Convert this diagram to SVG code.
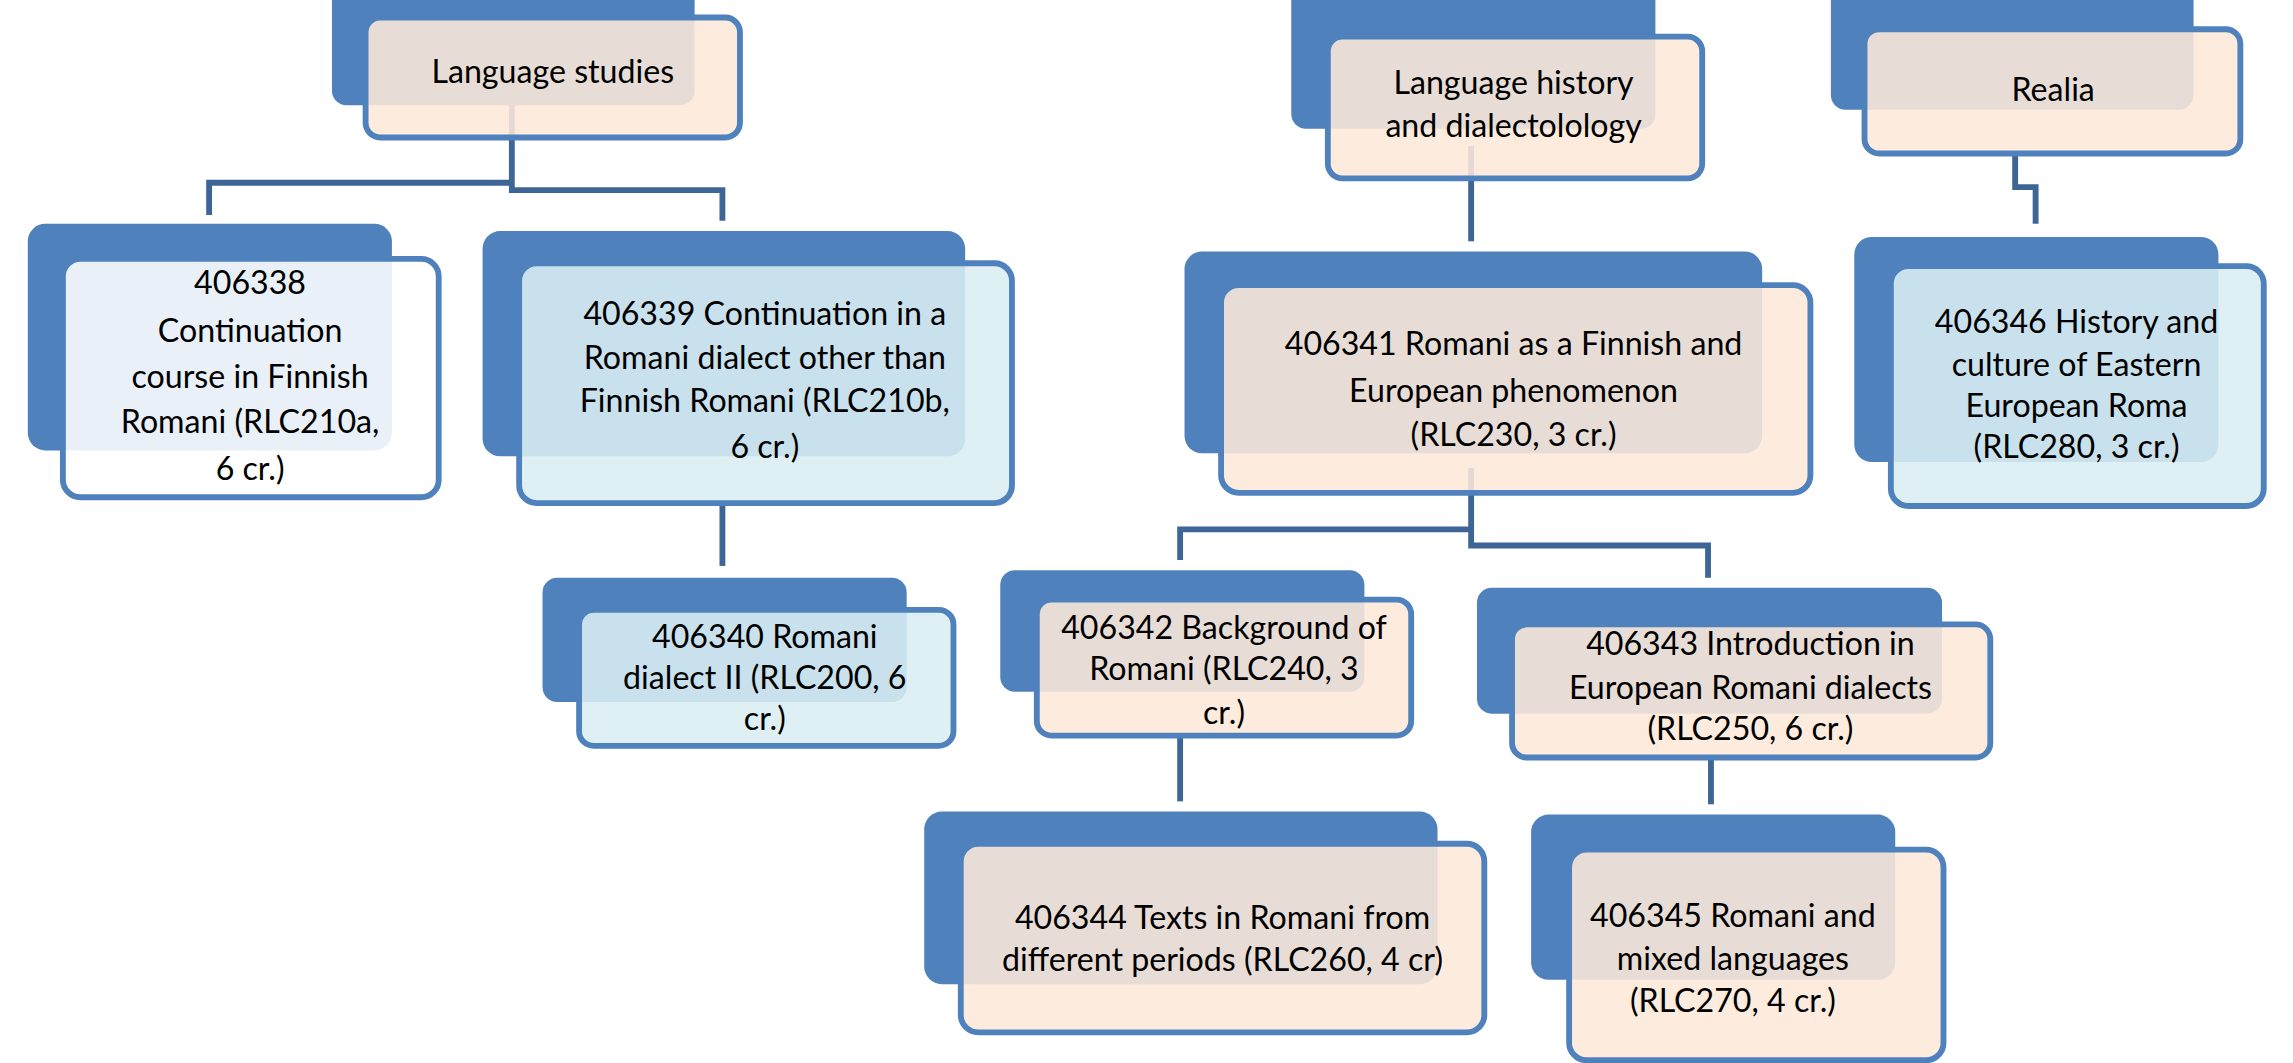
<svg xmlns="http://www.w3.org/2000/svg" width="2293" height="1063" viewBox="0 0 2293 1063">
<style>
.b{fill:#4F81BD}
.f{stroke:#4F81BD;stroke-width:4}
.p{fill:#FDE9D9;fill-opacity:0.88}
.l{fill:#DAEEF3;fill-opacity:0.88}
.w{fill:#FFFFFF;fill-opacity:0.88}
text{font-family:Lato,"Open Sans",sans-serif;font-size:22px;fill:#000;text-anchor:middle}
.c path{fill:none;stroke:#3D6595;stroke-width:4}
</style>
<rect width="2293" height="1063" fill="#fff"/>
<g transform="scale(1.46237)">
<g class="c" id="connectors">
<path d="M350 70V125H143V147M350 125V130H494V151"/>
<path d="M494 344V387"/>
<path d="M1006 100V165"/>
<path d="M1378 105V128H1392V153"/>
<path d="M1006 320V362H807V383M1006 362V373H1168V395"/>
<path d="M807 503V548"/>
<path d="M1170 518V550"/>
</g>
<g id="n1"><rect class="b" x="227" y="-12" width="248" height="84" rx="10"/><rect class="f p" x="250" y="12" width="256" height="82" rx="10"/><text x="378" y="57">Language studies</text></g>
<g id="n2"><rect class="b" x="19" y="153" width="249" height="155" rx="12"/><rect class="f w" x="43" y="177" width="257" height="163" rx="12"/><text x="171" y="201">406338</text><text x="171" y="234">Continuation</text><text x="171" y="265">course in Finnish</text><text x="171" y="296">Romani (RLC210a,</text><text x="171" y="328">6 cr.)</text></g>
<g id="n3"><rect class="b" x="330" y="158" width="330" height="154" rx="12"/><rect class="f l" x="355" y="180" width="337" height="164" rx="12"/><text x="523" y="222">406339 Continuation in a</text><text x="523" y="252">Romani dialect other than</text><text x="523" y="282">Finnish Romani (RLC210b,</text><text x="523" y="313">6 cr.)</text></g>
<g id="n4"><rect class="b" x="371" y="395" width="249" height="85" rx="10"/><rect class="f l" x="396" y="417" width="256" height="93" rx="10"/><text x="523" y="443">406340 Romani</text><text x="523" y="471">dialect II (RLC200, 6</text><text x="523" y="499">cr.)</text></g>
<g id="n5"><rect class="b" x="883" y="-10" width="249" height="98" rx="10"/><rect class="f p" x="908" y="25" width="256" height="97" rx="10"/><text x="1035" y="64">Language history</text><text x="1035" y="94">and dialectolology</text></g>
<g id="n6"><rect class="b" x="1252" y="-10" width="248" height="85" rx="10"/><rect class="f p" x="1275" y="20" width="257" height="85" rx="10"/><text x="1404" y="69">Realia</text></g>
<g id="n7"><rect class="b" x="810" y="172" width="395" height="138" rx="12"/><rect class="f p" x="835" y="195" width="403" height="142" rx="12"/><text x="1035" y="243">406341 Romani as a Finnish and</text><text x="1035" y="275">European phenomenon</text><text x="1035" y="305">(RLC230, 3 cr.)</text></g>
<g id="n8"><rect class="b" x="1268" y="162" width="249" height="154" rx="12"/><rect class="f l" x="1293" y="182" width="255" height="164" rx="12"/><text x="1420" y="228">406346 History and</text><text x="1420" y="257">culture of Eastern</text><text x="1420" y="285">European Roma</text><text x="1420" y="313">(RLC280, 3 cr.)</text></g>
<g id="n9"><rect class="b" x="684" y="390" width="249" height="83" rx="10"/><rect class="f p" x="709" y="410" width="256" height="93" rx="10"/><text x="837" y="437">406342 Background of</text><text x="837" y="465">Romani (RLC240, 3</text><text x="837" y="495">cr.)</text></g>
<g id="n10"><rect class="b" x="1010" y="402" width="318" height="86" rx="10"/><rect class="f p" x="1034" y="427" width="327" height="91" rx="10"/><text x="1197" y="448">406343 Introduction in</text><text x="1197" y="478">European Romani dialects</text><text x="1197" y="506">(RLC250, 6 cr.)</text></g>
<g id="n11"><rect class="b" x="632" y="555" width="351" height="118" rx="12"/><rect class="f p" x="657" y="577" width="358" height="129" rx="12"/><text x="836" y="635">406344 Texts in Romani from</text><text x="836" y="664">different periods (RLC260, 4 cr)</text></g>
<g id="n12"><rect class="b" x="1047" y="557" width="249" height="113" rx="12"/><rect class="f p" x="1073" y="581" width="256" height="144" rx="12"/><text x="1185" y="634">406345 Romani and</text><text x="1185" y="663">mixed languages</text><text x="1185" y="692">(RLC270, 4 cr.)</text></g>
</g>
</svg>
